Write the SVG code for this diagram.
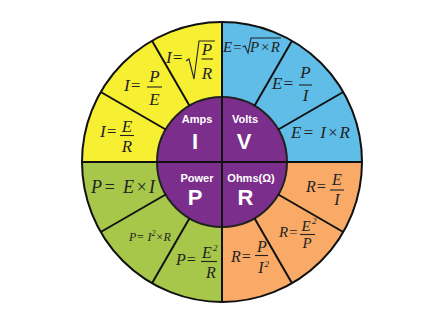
<svg xmlns="http://www.w3.org/2000/svg" width="439" height="323" viewBox="0 0 439 323">
<style>
.f{font-family:"Liberation Serif","Times New Roman",serif;font-style:italic;fill:#222}
.m{text-anchor:middle}
.bar{stroke:#222;stroke-width:1.1;fill:none}
.rad{stroke:#222;stroke-width:1.1;fill:none;stroke-linejoin:miter}
.lbl{font-family:"Liberation Sans",Arial,sans-serif;font-weight:bold;fill:#fff;text-anchor:middle}
.div{stroke:#111;stroke-width:2;fill:none}
</style>
<rect width="439" height="323" fill="#fff"/>
<g id="quadrants">
<path id="amps-ring" d="M222,162 L82,162 A140,140 0 0 1 222,22 Z" fill="#f7f032"/>
<path id="volts-ring" d="M222,162 L222,22 A140,140 0 0 1 362,162 Z" fill="#5fbde8"/>
<path id="ohms-ring" d="M222,162 L362,162 A140,140 0 0 1 222,302 Z" fill="#f8aa66"/>
<path id="power-ring" d="M222,162 L222,302 A140,140 0 0 1 82,162 Z" fill="#a7c74a"/>
</g>
<circle id="core" cx="222" cy="162" r="65" fill="#7b2e8c" stroke="#222" stroke-width="2"/>
<g id="connectors" class="div">
<circle cx="222" cy="162" r="140"/>
<line x1="222" y1="22" x2="222" y2="302"/>
<line x1="82" y1="162" x2="362" y2="162"/>
<line x1="165.71" y1="129.5" x2="100.76" y2="92"/>
<line x1="189.5" y1="105.71" x2="152" y2="40.76"/>
<line x1="254.5" y1="105.71" x2="292" y2="40.76"/>
<line x1="278.29" y1="129.5" x2="343.24" y2="92"/>
<line x1="165.71" y1="194.5" x2="100.76" y2="232"/>
<line x1="189.5" y1="218.29" x2="152" y2="283.24"/>
<line x1="278.29" y1="194.5" x2="343.24" y2="232"/>
<line x1="254.5" y1="218.29" x2="292" y2="283.24"/>
</g>
<g id="amps-sqrt">
<text class="f" x="166" y="63" font-size="17">I=</text>
<path class="rad" d="M186,61 L189,59 L194,79 L199,41 L215,41"/>
<text class="f m" x="207" y="55" font-size="17">P</text>
<line class="bar" x1="201.5" y1="59" x2="213" y2="59"/>
<text class="f m" x="207" y="79" font-size="17">R</text>
</g>
<g id="amps-pe">
<text class="f" x="124" y="91" font-size="17">I=</text>
<text class="f m" x="154.5" y="82" font-size="17">P</text>
<line class="bar" x1="147" y1="87" x2="162" y2="87"/>
<text class="f m" x="154.5" y="105" font-size="17">E</text>
</g>
<g id="amps-er">
<text class="f" x="100" y="137" font-size="17">I=</text>
<text class="f m" x="127" y="132" font-size="17">E</text>
<line class="bar" x1="120" y1="135.5" x2="134" y2="135.5"/>
<text class="f m" x="127" y="152" font-size="17">R</text>
</g>
<g id="volts-sqrt">
<text class="f" x="223" y="52" font-size="15">E=</text>
<path class="rad" d="M242.5,47 L245,46 L248,53 L251,38 L281,38"/>
<text class="f" x="250" y="52" font-size="15" textLength="30">P×R</text>
</g>
<g id="volts-pi">
<text class="f" x="272" y="89" font-size="17">E=</text>
<text class="f m" x="305.5" y="78" font-size="17">P</text>
<line class="bar" x1="299" y1="85" x2="312" y2="85"/>
<text class="f m" x="305.5" y="101" font-size="17">I</text>
</g>
<g id="volts-ir">
<text class="f" x="291" y="138" font-size="17" textLength="59">E= I×R</text>
</g>
<g id="power-ei">
<text class="f" x="91" y="193" font-size="18" textLength="64">P= E×I</text>
</g>
<g id="power-i2r">
<text class="f" x="129" y="241" font-size="12">P= I<tspan font-size="8" dy="-5">2</tspan><tspan dy="5">×R</tspan></text>
</g>
<g id="power-e2r">
<text class="f" x="176" y="265" font-size="16">P=</text>
<text class="f m" x="207" y="258" font-size="16">E</text>
<text class="f" x="213" y="251" font-size="9">2</text>
<line class="bar" x1="201" y1="261.5" x2="217" y2="261.5"/>
<text class="f m" x="211" y="278" font-size="16">R</text>
</g>
<g id="ohms-ei">
<text class="f" x="306" y="192" font-size="16">R=</text>
<text class="f m" x="337" y="185" font-size="16">E</text>
<line class="bar" x1="330" y1="190" x2="344" y2="190"/>
<text class="f m" x="337" y="205" font-size="16">I</text>
</g>
<g id="ohms-e2p">
<text class="f" x="279" y="237" font-size="15">R=</text>
<text class="f m" x="306" y="231" font-size="15">E</text>
<text class="f" x="312" y="224" font-size="9">2</text>
<line class="bar" x1="300" y1="234.5" x2="315" y2="234.5"/>
<text class="f m" x="307" y="248" font-size="15">P</text>
</g>
<g id="ohms-pi2">
<text class="f" x="231" y="262" font-size="16">R=</text>
<text class="f m" x="262" y="252" font-size="16">P</text>
<line class="bar" x1="255" y1="255.5" x2="268" y2="255.5"/>
<text class="f m" x="261" y="273" font-size="16">I</text>
<text class="f" x="264.5" y="267" font-size="9">2</text>
</g>
<g id="node-amps">
<text class="lbl" x="197" y="123" font-size="11">Amps</text>
<text class="lbl" x="195" y="149" font-size="22">I</text>
</g>
<g id="node-volts">
<text class="lbl" x="245" y="123" font-size="11">Volts</text>
<text class="lbl" x="244" y="149" font-size="22">V</text>
</g>
<g id="node-power">
<text class="lbl" x="197" y="182" font-size="11">Power</text>
<text class="lbl" x="195" y="205" font-size="22">P</text>
</g>
<g id="node-ohms">
<text class="lbl" x="251" y="182" font-size="11">Ohms(Ω)</text>
<text class="lbl" x="245.5" y="205" font-size="22">R</text>
</g>
</svg>
